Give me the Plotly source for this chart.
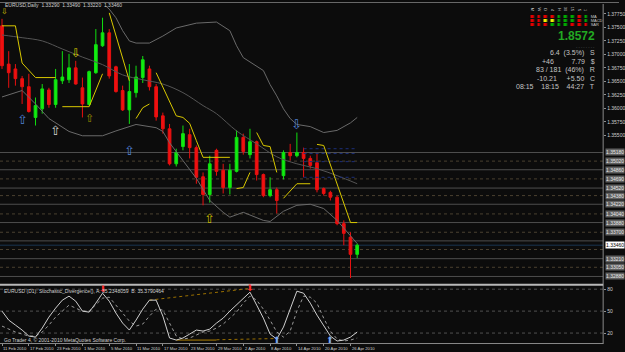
import plotly.graph_objects as go
import pandas as pd

# ---------------- data ----------------
symbol_title = "EURUSD,Daily"
dates = pd.bdate_range("2010-02-11", "2010-04-27")
bars = list(range(len(dates)))

opens = [1.3753,1.3682,1.3673,1.3655,1.3640,1.3583,1.3599,1.3634,1.3607,1.3651,
         1.3653,1.3675,1.3638,1.3607,1.3666,1.3716,1.3740,1.3677,1.3633,1.3597,
         1.3629,1.3657,1.3673,1.3640,1.3586,1.3562,1.3497,1.3529,1.3551,1.3527,
         1.3473,1.3440,1.3522,1.3485,1.3453,1.3483,1.3546,1.3514,1.3538,1.3477,
         1.3438,1.3449,1.3475,1.3518,1.3512,1.3518,1.3507,1.3499,1.3451,1.3444,
         1.3435,1.3386,1.3361,1.3329]
highs = [1.3766,1.3706,1.3682,1.3660,1.3664,1.3620,1.3645,1.3638,1.3673,1.3706,
         1.3701,1.3688,1.3657,1.3670,1.3747,1.3768,1.3747,1.3679,1.3642,1.3682,
         1.3679,1.3697,1.3679,1.3645,1.3592,1.3571,1.3525,1.3568,1.3562,1.3531,
         1.3481,1.3512,1.3525,1.3497,1.3497,1.3559,1.3553,1.3562,1.3540,1.3479,
         1.3472,1.3453,1.3522,1.3534,1.3555,1.3527,1.3512,1.3516,1.3453,1.3447,
         1.3438,1.3392,1.3370,1.3349]
lows = [1.3673,1.3638,1.3642,1.3608,1.3592,1.3568,1.3590,1.3601,1.3601,1.3645,
        1.3647,1.3644,1.3583,1.3605,1.3664,1.3714,1.3655,1.3629,1.3595,1.3571,
        1.3620,1.3647,1.3633,1.3577,1.3553,1.3494,1.3492,1.3522,1.3507,1.3460,
        1.3420,1.3425,1.3475,1.3442,1.3440,1.3481,1.3514,1.3507,1.3466,1.3435,
        1.3435,1.3405,1.3468,1.3503,1.3509,1.3472,1.3488,1.3444,1.3438,1.3429,
        1.3383,1.3346,1.3285,1.3322]
closes = [1.3679,1.3666,1.3655,1.3640,1.3594,1.3605,1.3636,1.3607,1.3653,1.3658,
          1.3675,1.3645,1.3608,1.3668,1.3718,1.3740,1.3660,1.3631,1.3597,1.3631,
          1.3658,1.3690,1.3640,1.3584,1.3562,1.3497,1.3518,1.3553,1.3527,1.3472,
          1.3440,1.3497,1.3483,1.3453,1.3485,1.3546,1.3520,1.3538,1.3477,1.3438,
          1.3449,1.3429,1.3518,1.3512,1.3518,1.3507,1.3494,1.3449,1.3442,1.3435,
          1.3386,1.3368,1.3329,1.3346]

# envelope / band indicator
upper_x = [12,15,16,17,18,19,20,22,24,26,29,32,34,35,36,38,39,40,41,42,43,44,46,48,50,52,53]
upper_y = [1.3836,1.3795,1.3784,1.3768,1.3744,1.3725,1.3721,1.3721,1.3734,1.3749,1.3758,1.3760,
           1.3744,1.3716,1.3694,1.3677,1.3670,1.3644,1.3623,1.3599,1.3581,1.3570,1.3566,1.3555,
           1.3559,1.3573,1.3583]
mid_x = [0,3,6,9,12,15,18,21,24,27,30,32,35,38,41,44,47,50,53]
mid_y = [1.3736,1.3731,1.3725,1.3710,1.3695,1.3681,1.3662,1.3653,1.3645,1.3629,1.3605,1.3590,
         1.3558,1.3534,1.3510,1.3497,1.3488,1.3475,1.3460]
lower_x = [0,3,5,7,10,12,15,17,20,23,24,25,27,29,31,33,34,36,39,40,42,44,46,48,50,52,53]
lower_y = [1.3621,1.3633,1.3608,1.3581,1.3557,1.3549,1.3549,1.3558,1.3570,1.3564,1.3557,1.3536,
           1.3503,1.3470,1.3429,1.3407,1.3398,1.3407,1.3392,1.3390,1.3409,1.3420,1.3422,1.3414,
           1.3392,1.3364,1.3349]

# trailing stop (yellow) segments
stop_segments_x = [[0,2,3,5,8],[9,13,15],[16,19],[20,21,22],[23,26,27,28,29,30,34],
                   [35,36,37],[38,39,40,41],[42,44,46],[47,48,52,53]]
stop_segments_y = [[1.3753,1.3753,1.3684,1.3657,1.3657],[1.3603,1.3603,1.3664],[1.3777,1.3651],
                   [1.3581,1.3601,1.3608],[1.3666,1.3586,1.3583,1.3572,1.3540,1.3509,1.3509],
                   [1.3451,1.3453,1.3481],[1.3555,1.3531,1.3529,1.3481],[1.3433,1.3460,1.3460],
                   [1.3533,1.3531,1.3388,1.3388]]

# horizontal levels
solid_levels = [1.3518,1.3486,1.3452,1.3422,1.3388,1.3354,1.3321,1.3288]
dotted_levels = [1.3502,1.3469,1.3438,1.3404,1.3370,1.3338,1.3305]
pivot_x = [45,53]
pivot_levels = [1.3525,1.3516,1.3501,1.3472]
price_ticks = [round(1.3775 - 0.0025*k, 4) for k in range(10)]

# arrows in price pane
arrow_x = [0.35,3,8,11,13,19,44,31]
arrow_y = [1.3779,1.3579,1.3559,1.3703,1.3581,1.3522,1.3570,1.3396]
arrow_sym = ["⇩","⇧","⇧","⇩","⇧","⇧","⇩","⇧"]
arrow_col = ["#d8c800","#4f7fd0","#d0d0d0","#d8c800","#9a8a00","#4f7fd0","#4f7fd0","#c8b800"]
arrow_size = [8,13,13,12,11,13,13,13]

# stochastic
stoch_main = [50.0,37.7,30.9,24.1,15.9,14.5,26.8,41.8,54.1,65.0,70.5,63.6,50.0,48.6,60.9,74.5,
              63.6,47.3,33.6,24.1,37.7,52.7,65.0,65.0,43.2,13.2,10.4,13.2,18.6,24.1,22.7,25.4,
              33.6,40.4,50.0,58.2,66.4,75.9,58.2,40.4,18.6,11.8,28.2,51.4,77.3,74.5,60.9,44.5,
              29.5,15.9,9.1,10.4,14.5,21.4]
stoch_signal = [29.5,25.4,21.4,18.6,15.9,15.9,21.4,30.9,41.8,50.0,58.2,54.1,50.0,50.0,58.2,67.7,
                69.1,58.2,47.3,36.4,29.5,32.3,43.2,52.7,51.4,33.6,15.9,11.8,13.2,17.3,21.4,22.7,
                26.8,32.3,40.4,48.6,60.9,70.5,65.0,52.7,37.7,21.4,14.5,22.7,50.0,70.5,69.1,60.9,
                40.4,22.7,11.8,9.1,10.4,13.2]
stoch_levels = [80,50,20]
div_top_x, div_top_y = [22,37], [65.0,81.0]
div_bot_x, div_bot_y = [26,32], [10.4,10.4]
div_bot2_x, div_bot2_y = [32,41], [10.8,12.5]
sig_down_x, sig_down_y = [15,37], [80.5,81.5]
sig_up_x, sig_up_y = [41,49], [11.0,11.0]

# signal matrix panel
tf_labels = ["M","W","D","4","H","30","15","5","1"]
ind_labels = ["MA","MACD","SAR"]
signals = [[0,0,0,0,2,2,2,0,2],
           [0,0,1,1,2,2,2,0,2],
           [0,0,0,2,2,2,0,0,0]]
big_value = "1.8572"
info_lines = ["6.4  (3.5%)   S", "+46         7.79   $", "83 / 181  (46%)   R",
              "-10.21     +5.50   C", "08:15    18:15    44:27   T"]

# ---------------- figure ----------------
BG = "#0c0c0c"
XR = [-0.3, 89.7]
fig = go.Figure()

fig.add_trace(go.Scatter(x=upper_x, y=upper_y, mode="lines", line=dict(color="#6a6a6a", width=1),
                         xaxis="x", yaxis="y", hoverinfo="skip"))
fig.add_trace(go.Scatter(x=mid_x, y=mid_y, mode="lines", line=dict(color="#555555", width=1, shape="spline"),
                         xaxis="x", yaxis="y", hoverinfo="skip"))
fig.add_trace(go.Scatter(x=lower_x, y=lower_y, mode="lines", line=dict(color="#6a6a6a", width=1),
                         xaxis="x", yaxis="y", hoverinfo="skip"))

for lv in pivot_levels:
    fig.add_trace(go.Scatter(x=pivot_x, y=[lv, lv], mode="lines",
                             line=dict(color="#1c2f7a", width=1, dash="dot"),
                             xaxis="x", yaxis="y", hoverinfo="skip"))

fig.add_trace(go.Candlestick(x=bars, open=opens, high=highs, low=lows, close=closes,
                             increasing=dict(line=dict(color="#10e010", width=1), fillcolor="#10ee10"),
                             decreasing=dict(line=dict(color="#e81010", width=1), fillcolor="#f01010"),
                             whiskerwidth=0, xaxis="x", yaxis="y", hoverinfo="skip"))

sx, sy = [], []
for xs, ys in zip(stop_segments_x, stop_segments_y):
    sx += xs + [None]
    sy += ys + [None]
fig.add_trace(go.Scatter(x=sx, y=sy, mode="lines", line=dict(color="#d9c800", width=1),
                         xaxis="x", yaxis="y", hoverinfo="skip", connectgaps=False))

# stochastic pane
fig.add_trace(go.Scatter(x=div_top_x, y=div_top_y, mode="lines", line=dict(color="#9a7000", width=1, dash="dot"),
                         xaxis="x2", yaxis="y2", hoverinfo="skip"))
fig.add_trace(go.Scatter(x=div_bot_x, y=div_bot_y, mode="lines", line=dict(color="#b08000", width=1),
                         xaxis="x2", yaxis="y2", hoverinfo="skip"))
fig.add_trace(go.Scatter(x=div_bot2_x, y=div_bot2_y, mode="lines", line=dict(color="#9a7000", width=1, dash="dot"),
                         xaxis="x2", yaxis="y2", hoverinfo="skip"))
fig.add_trace(go.Scatter(x=bars, y=stoch_signal, mode="lines", line=dict(color="#9a9a9a", width=1, dash="dot"),
                         xaxis="x2", yaxis="y2", hoverinfo="skip"))
fig.add_trace(go.Scatter(x=bars, y=stoch_main, mode="lines", line=dict(color="#cfcfcf", width=1),
                         xaxis="x2", yaxis="y2", hoverinfo="skip"))

# signal panel heatmap
fig.add_trace(go.Heatmap(z=signals, x=list(range(len(tf_labels))), y=list(range(len(ind_labels))),
                         colorscale=[[0, "#e00000"], [0.5, "#f0f000"], [1, "#00a800"]],
                         zmin=0, zmax=2, showscale=False, xgap=3.5, ygap=1,
                         xaxis="x3", yaxis="y3", hoverinfo="skip"))

shapes = []
for lv in solid_levels:
    shapes.append(dict(type="line", xref="x domain", x0=0, x1=1, yref="y", y0=lv, y1=lv,
                       line=dict(color="#4e4e4e", width=1), layer="below"))
for lv in dotted_levels:
    shapes.append(dict(type="line", xref="x domain", x0=0, x1=1, yref="y", y0=lv, y1=lv,
                       line=dict(color="#4a4030", width=1, dash="dot"), layer="below"))
shapes.append(dict(type="line", xref="x domain", x0=0, x1=1, yref="y", y0=closes[-1], y1=closes[-1],
                   line=dict(color="#1a3550", width=1), layer="below"))
for lv in stoch_levels:
    shapes.append(dict(type="line", xref="x2 domain", x0=0, x1=1, yref="y2", y0=lv, y1=lv,
                       line=dict(color="#505050", width=1, dash="dot"), layer="below"))
# frames
W, H = 625.0, 352.0
xr = 609 / W
shapes += [
    dict(type="line", xref="paper", yref="paper", x0=0, x1=1, y0=1 - 1.5 / H, y1=1 - 1.5 / H,
         line=dict(color="#6a6a6a", width=1)),
    dict(type="line", xref="paper", yref="paper", x0=xr, x1=xr, y0=1 - 344 / H, y1=1 - 3 / H,
         line=dict(color="#8a8a8a", width=1)),
    dict(type="line", xref="paper", yref="paper", x0=0, x1=xr, y0=1 - 284.5 / H, y1=1 - 284.5 / H,
         line=dict(color="#b8b8b8", width=2)),
    dict(type="line", xref="paper", yref="paper", x0=0, x1=xr, y0=1 - 343.5 / H, y1=1 - 343.5 / H,
         line=dict(color="#8a8a8a", width=1)),
]

ann = []
small = dict(family="Liberation Sans", size=5, color="#d0d0d0")
ann.append(dict(xref="paper", yref="paper", x=3 / W, y=1 - 4.5 / H, xanchor="left", yanchor="middle",
                text=f"{symbol_title}  {opens[-1]:.5f}  {highs[-1]:.5f}  {lows[-1]:.5f}  {closes[-1]:.5f}",
                showarrow=False, font=small))
for x, y, s, c, fs in zip(arrow_x, arrow_y, arrow_sym, arrow_col, arrow_size):
    ann.append(dict(xref="x", yref="y", x=x, y=y, text=s, showarrow=False,
                    font=dict(family="DejaVu Sans", size=fs, color=c)))
for x, y in zip(sig_down_x, sig_down_y):
    ann.append(dict(xref="x2", yref="y2", x=x, y=y, text="⬇", showarrow=False,
                    font=dict(family="DejaVu Sans", size=9, color="#ff2a2a")))
for x, y in zip(sig_up_x, sig_up_y):
    ann.append(dict(xref="x2", yref="y2", x=x, y=y, text="⬆", showarrow=False,
                    font=dict(family="DejaVu Sans", size=9, color="#7aa6ee")))
# boxed labels of horizontal levels (the one hidden by the price label is skipped)
for lv in solid_levels + dotted_levels:
    if abs(lv - closes[-1]) < 0.0012:
        continue
    ann.append(dict(xref="paper", yref="y", x=611 / W, y=lv, xanchor="left", yanchor="middle",
                    text=f"{lv:.5f}", showarrow=False, bgcolor="#606060", borderpad=0,
                    font=dict(family="Liberation Sans", size=5, color="#e8e8e8")))
ann.append(dict(xref="paper", yref="y", x=611 / W, y=closes[-1], xanchor="left", yanchor="middle",
                text=f"{closes[-1]:.5f}", showarrow=False, bgcolor="#ffffff", borderpad=0,
                font=dict(family="Liberation Sans", size=5, color="#000000")))
# stochastic pane texts
ann.append(dict(xref="paper", yref="paper", x=2 / W, y=1 - 290.5 / H, xanchor="left", yanchor="middle",
                text="EURUSD (D1): Stochastic_Divergence(), A: 35.2348059  B: 35.3790464",
                showarrow=False, font=small))
ann.append(dict(xref="paper", yref="paper", x=2 / W, y=1 - 340 / H, xanchor="left", yanchor="middle",
                text="Go Trader 4, © 2001-2010 MetaQuotes Software Corp.",
                showarrow=False, font=small))
# date labels
for i in range(0, len(dates), 4):
    d = dates[i]
    ann.append(dict(xref="x2", yref="paper", x=i - 0.1, y=1 - 348.5 / H, xanchor="left", yanchor="middle",
                    text=f"{d.day} {d.strftime('%b %Y')}", showarrow=False,
                    font=dict(family="Liberation Sans", size=4.2, color="#d0d0d0")))
# info panel
ann.append(dict(xref="paper", yref="paper", x=603 / W, y=1 - 35 / H, xanchor="right", yanchor="middle",
                text=f"<b>{big_value}</b>", showarrow=False,
                font=dict(family="Liberation Sans", size=12, color="#22a822")))
ann.append(dict(xref="paper", yref="paper", x=603 / W, y=1 - 45.5 / H, xanchor="right", yanchor="middle",
                text="- - - - - - - -", showarrow=False,
                font=dict(family="Liberation Sans", size=4, color="#7a7a7a")))
for k, line in enumerate(info_lines):
    ann.append(dict(xref="paper", yref="paper", x=603 / W, y=1 - (52.5 + 8.4 * k) / H,
                    xanchor="right", yanchor="middle", text=line, showarrow=False,
                    font=dict(family="Liberation Sans", size=7, color="#c4c4c4")))

axis_common = dict(showgrid=False, zeroline=False, showline=False)
fig.update_layout(
    width=625, height=352, margin=dict(l=0, r=0, t=0, b=0),
    paper_bgcolor=BG, plot_bgcolor=BG, showlegend=False, boxgap=0.42,
    shapes=shapes, annotations=ann,
    xaxis=dict(domain=[0, xr], range=XR, anchor="y", showticklabels=False,
               rangeslider=dict(visible=False), **axis_common),
    yaxis=dict(domain=[1 - 283 / H, 1 - 5 / H], range=[1.32755, 1.37898], anchor="x", side="right",
               tickvals=price_ticks, tickformat=".5f", ticks="outside", ticklen=2, tickcolor="#909090",
               tickfont=dict(family="Liberation Sans", size=5, color="#cfcfcf"), **axis_common),
    xaxis2=dict(domain=[0, xr], range=XR, anchor="y2", matches="x", showticklabels=False,
                tickvals=list(range(0, len(dates), 4)), ticks="outside", ticklen=2, tickcolor="#909090",
                rangeslider=dict(visible=False), **axis_common),
    yaxis2=dict(domain=[1 - 343 / H, 1 - 286 / H], range=[6.35, 84.1], anchor="x2", side="right",
                tickvals=stoch_levels, ticks="outside", ticklen=2, tickcolor="#909090",
                tickfont=dict(family="Liberation Sans", size=5, color="#cfcfcf"), **axis_common),
    xaxis3=dict(domain=[534.6 / W, 595.4 / W], range=[-0.5, 8.5], anchor="y3", side="top",
                tickvals=list(range(len(tf_labels))), ticktext=tf_labels, ticks="",
                tickfont=dict(family="Liberation Sans", size=4, color="#c8c8c8"), **axis_common),
    yaxis3=dict(domain=[1 - 26 / H, 1 - 14 / H], range=[2.5, -0.5], anchor="x3", side="right",
                tickvals=list(range(len(ind_labels))), ticktext=ind_labels, ticks="",
                tickfont=dict(family="Liberation Sans", size=4, color="#c8c8c8"), **axis_common),
)

fig.write_html("out.html")
